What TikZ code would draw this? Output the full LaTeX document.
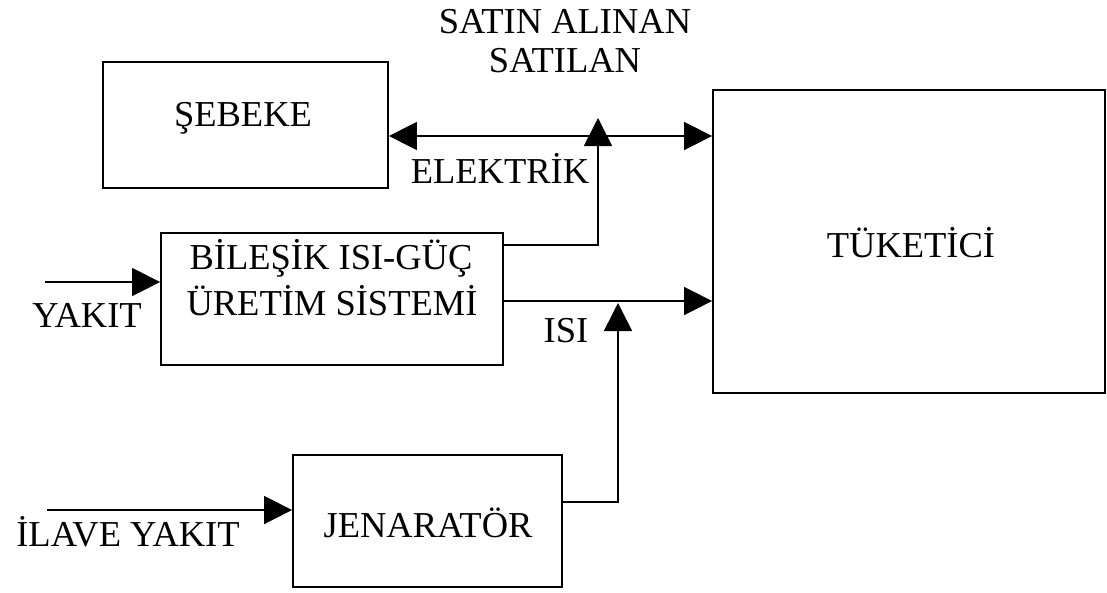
\documentclass[tikz,border=0pt]{standalone}
\usepackage{fontspec}
\setmainfont{Liberation Serif}
\usetikzlibrary{arrows.meta}
\begin{document}
\begin{tikzpicture}[x=1pt,y=-1pt,
  box/.style={draw, line width=1.8pt, inner sep=0pt},
  lbl/.style={anchor=base, inner sep=0pt, font=\fontsize{36.5}{40}\selectfont},
  conn/.style={line width=1.6pt},
  arr/.style={conn, -{Triangle[length=28pt,width=28pt]}},
  darr/.style={conn, {Triangle[length=28pt,width=28pt]}-{Triangle[length=28pt,width=28pt]}}]
\useasboundingbox (0,0) rectangle (1107,592);
% boxes
\node[box, minimum width=285pt, minimum height=126pt] (seb) at (245.5,125) {};
\node[box, minimum width=342pt, minimum height=132pt] (bil) at (332,299) {};
\node[box, minimum width=392pt, minimum height=303pt] (tuk) at (909,241.5) {};
\node[box, minimum width=269pt, minimum height=132pt] (jen) at (427.5,521) {};
% texts
\node[lbl] (t1) at (565,33) {SATIN ALINAN};
\node[lbl] (t2) at (565,72) {SATILAN};
\node[lbl] (tseb) at (243,126) {ŞEBEKE};
\node[lbl] (tel) at (500,183) {ELEKTRİK};
\node[lbl] (tb1) at (331,269) {BİLEŞİK ISI-GÜÇ};
\node[lbl] (tb2) at (332,315) {ÜRETİM SİSTEMİ};
\node[lbl] (tyak) at (87,327) {YAKIT};
\node[lbl] (tisi) at (566,342) {ISI};
\node[lbl] (ttuk) at (911,257) {TÜKETİCİ};
\node[lbl] (tila) at (128,546) {İLAVE YAKIT};
\node[lbl] (tjen) at (428,537) {JENARATÖR};
% coordinates
\coordinate (eY) at (598,136);
\coordinate (eTip) at (598,118);
\coordinate (hY) at (618,301);
\coordinate (hTip) at (618,303);
\coordinate (fuel1) at (45,282);
\coordinate (fuel2) at (47,510);
% electricity
\draw[darr] (seb.east |- eY) -- (tuk.west |- eY);
\draw[arr] (bil.east |- 0,245) -| (eTip);
% heat
\draw[arr] (bil.east |- hY) -- (tuk.west |- hY);
\draw[arr] (jen.east |- 0,502) -| (hTip);
% fuel
\draw[arr] (fuel1) -- (bil.west |- fuel1);
\draw[arr] (fuel2) -- (jen.west |- fuel2);
\end{tikzpicture}
\end{document}
